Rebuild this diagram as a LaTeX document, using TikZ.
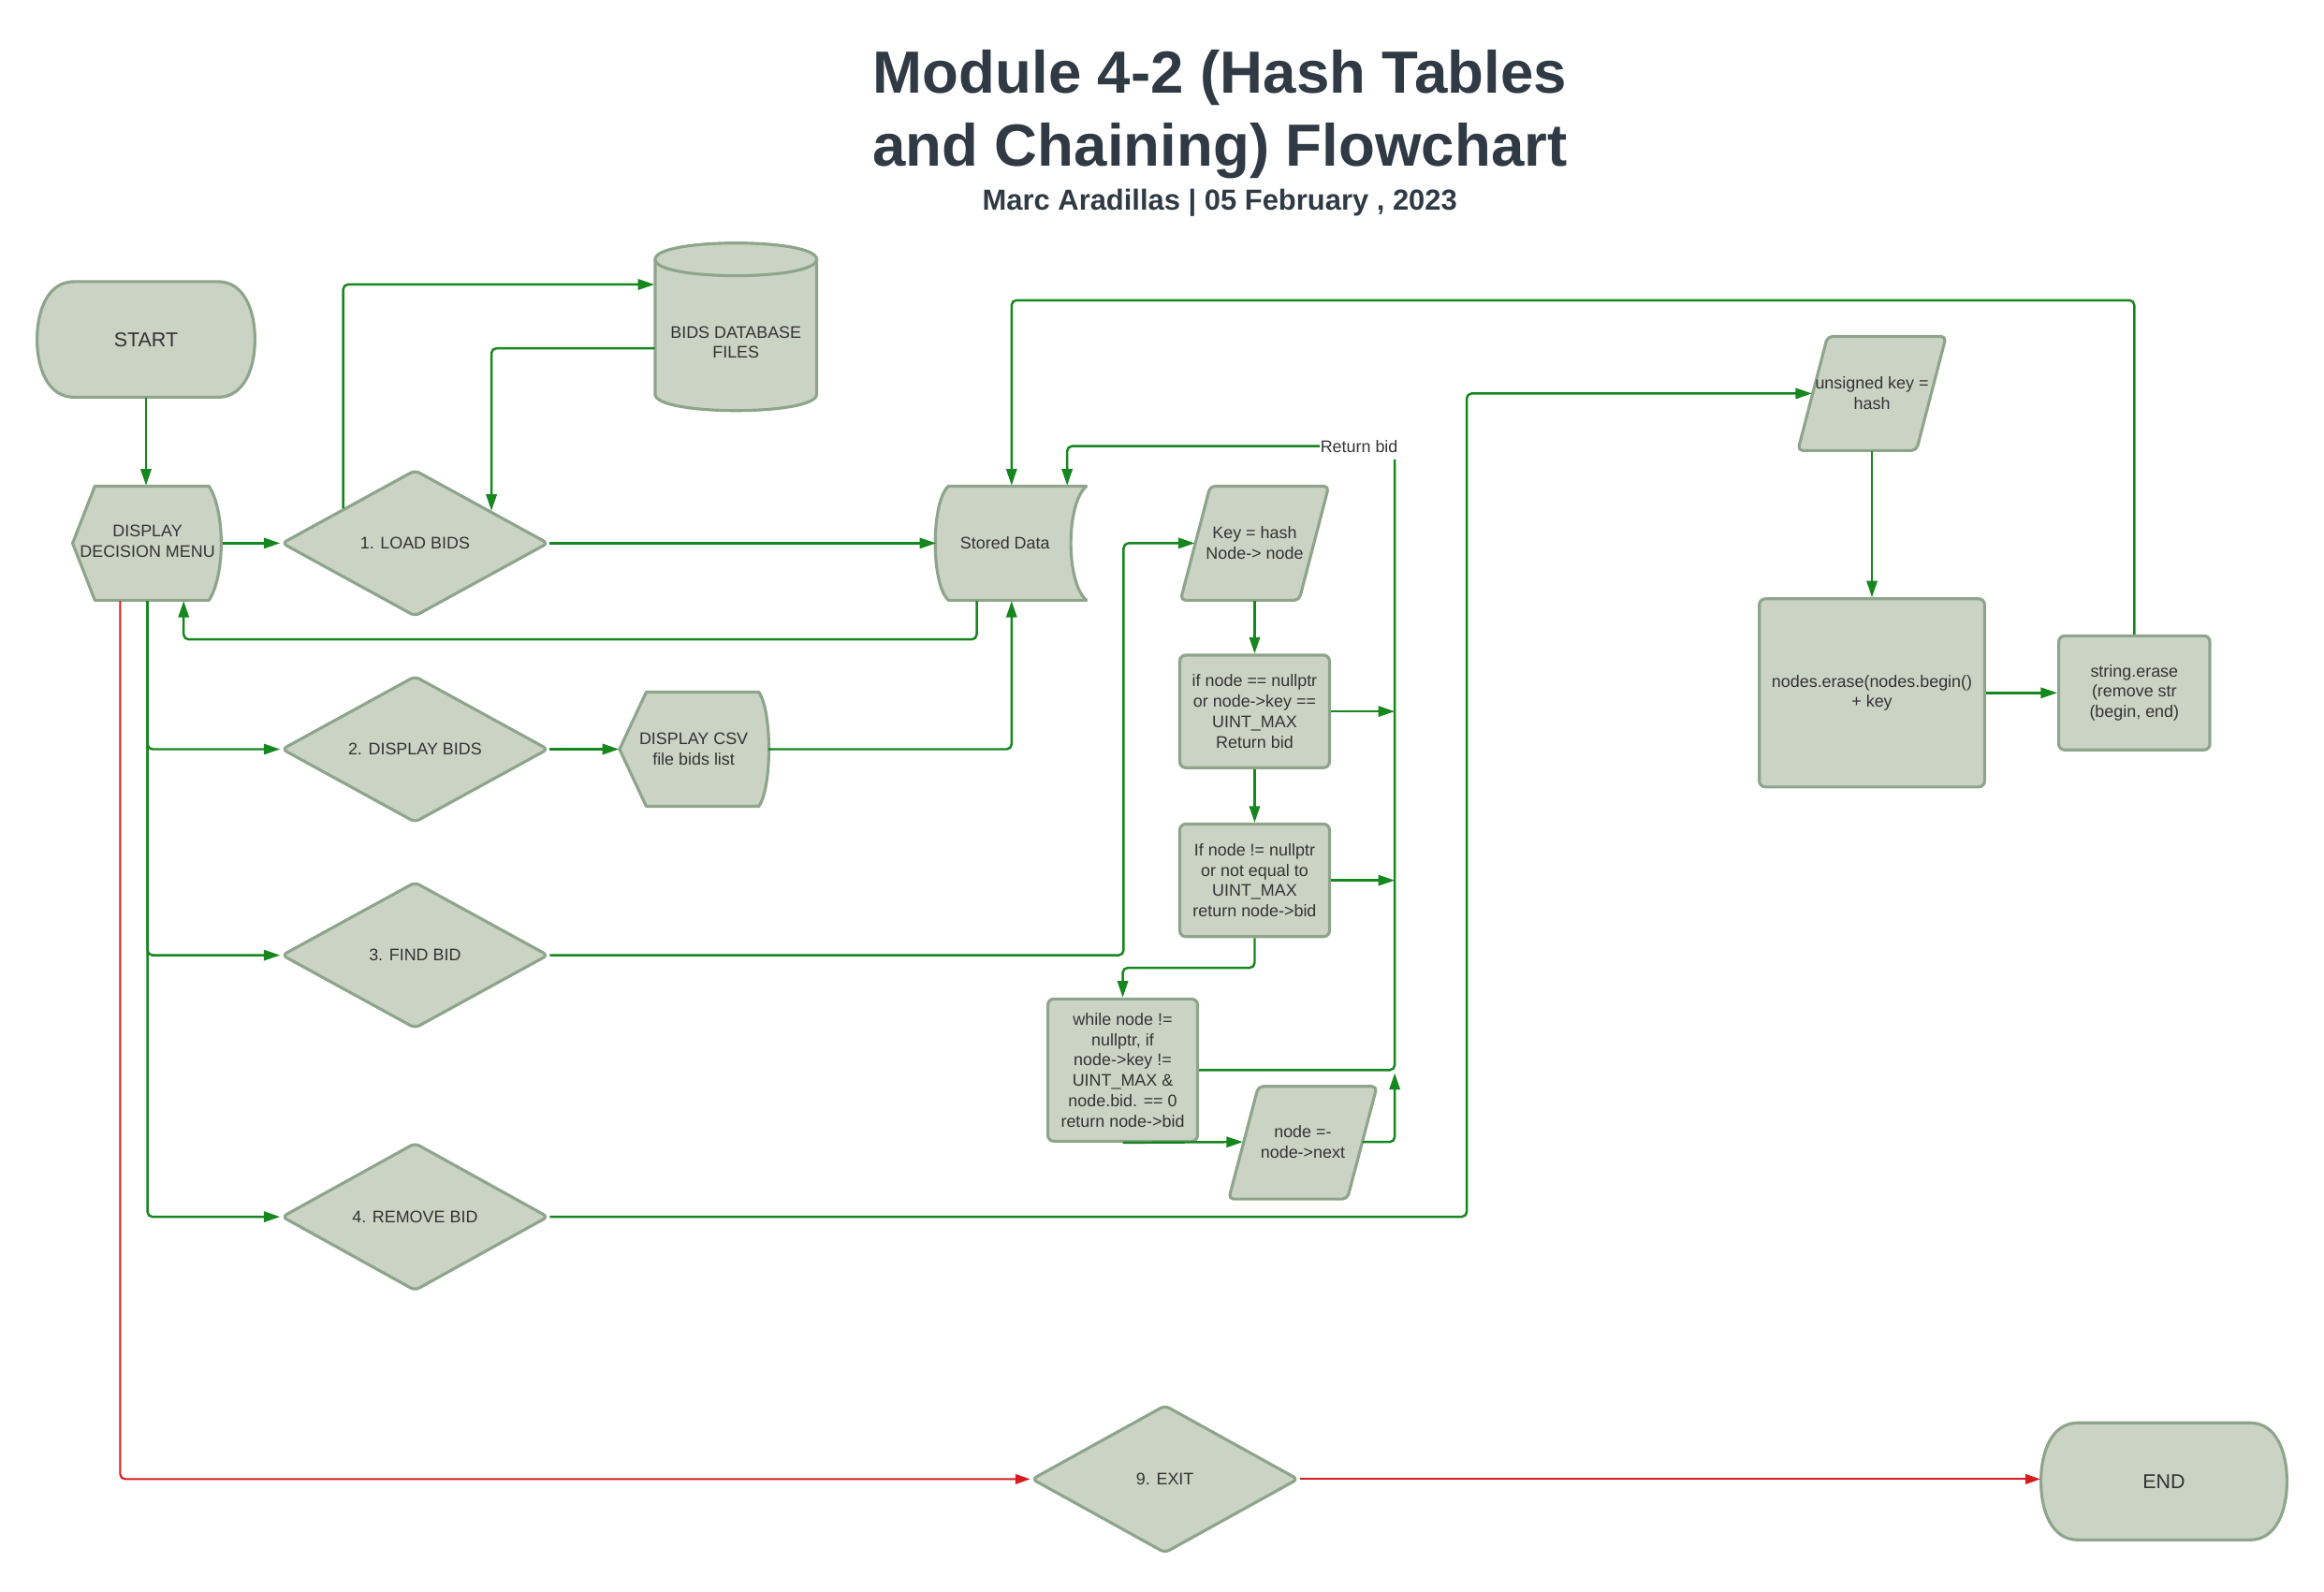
\documentclass[tikz,border=0pt]{standalone}
\usepackage{fontspec}
\setmainfont{Liberation Sans}
\usetikzlibrary{arrows.meta,calc,shapes.geometric}
\definecolor{shpfill}{RGB}{203,212,196}
\definecolor{shpdraw}{RGB}{141,165,138}
\definecolor{linec}{RGB}{22,134,30}
\definecolor{redc}{RGB}{214,28,28}
\definecolor{textc}{RGB}{51,51,51}
\definecolor{titlec}{RGB}{47,58,68}
\begin{document}
\begin{tikzpicture}[x=0.015836cm, y=-0.015836cm,
  shp/.style={fill=shpfill, draw=shpdraw, line width=0.9pt, line join=round},
  sz/.style 2 args={minimum width=#1*0.4505pt, minimum height=#2*0.4505pt},
  txt/.style={font=\fontsize{5.1}{6.2}\selectfont, text=textc, align=center, inner sep=0pt},
  bigtxt/.style={font=\fontsize{6.1}{7.2}\selectfont, text=textc, align=center, inner sep=0pt},
  dia/.style={shape=diamond, shp, txt, rounded corners=1.5pt},
  box/.style={shape=rectangle, shp, txt, rounded corners=1.8pt},
  conn/.style={draw=linec, line width=0.7pt, rounded corners=1.5pt},
  arr/.style={conn, -{Triangle[length=5pt,width=3.2pt]}},
  rarr/.style={draw=redc, line width=0.6pt, rounded corners=1.5pt, -{Triangle[length=4.5pt,width=3pt]}},
  ttl/.style={font=\fontsize{18.1}{21.7}\selectfont\bfseries, text=titlec, anchor=base, inner sep=0pt},
  subttl/.style={font=\fontsize{8.8}{10.5}\selectfont\bfseries, text=titlec, anchor=base, inner sep=0pt}]
\useasboundingbox (0,0) rectangle (1568,1074);

% ---------- title ----------
\node[ttl] (t1) at (823,63) {Module 4-2 (Hash Tables};
\node[ttl] (t2) at (823,112) {and Chaining) Flowchart};
\node[subttl] (t3) at (823,142) {Marc Aradillas | 05 February , 2023};

% ---------- drawn shapes ----------
% START terminator
\path[shp] (50,190) -- (147,190) .. controls (165,190) and (172,210) .. (172,229)
  .. controls (172,248) and (165,268) .. (147,268) -- (50,268)
  .. controls (32,268) and (25,248) .. (25,229) .. controls (25,210) and (32,190) .. (50,190) -- cycle;
% END terminator
\path[shp] (1402,960) -- (1518,960) .. controls (1536,960) and (1543,980) .. (1543,999.5)
  .. controls (1543,1019) and (1536,1039) .. (1518,1039) -- (1402,1039)
  .. controls (1384,1039) and (1377,1019) .. (1377,999.5) .. controls (1377,980) and (1384,960) .. (1402,960) -- cycle;
% DISPLAY DECISION MENU (display shape)
\path[shp] (49,366.5) -- (64,328) -- (141,328) .. controls (152,345) and (152,388) .. (141,405) -- (64,405) -- cycle;
% DISPLAY CSV (display shape)
\path[shp] (418,505.5) -- (436,467) -- (512,467) .. controls (521,480) and (521,531) .. (512,544) -- (436,544) -- cycle;
% BIDS DATABASE cylinder
\path[shp] (442,175) -- (442,266) .. controls (442,280.7) and (551,280.7) .. (551,266) -- (551,175)
  .. controls (551,160.3) and (442,160.3) .. (442,175) -- cycle;
\draw[shp, fill=none] (442,175) .. controls (442,189.7) and (551,189.7) .. (551,175);
% Stored Data
\path[shp] (640,328) -- (733,328) .. controls (719,340) and (719,393) .. (733,405) -- (640,405)
  .. controls (628,395) and (628,338) .. (640,328) -- cycle;
% parallelograms
\path[shp, rounded corners=1.5pt] (816.5,328) -- (896.5,328) -- (876.5,405) -- (796.5,405) -- cycle;
\path[shp, rounded corners=1.5pt] (849,733) -- (929,733) -- (909,809) -- (829,809) -- cycle;
\path[shp, rounded corners=1.5pt] (1233,227) -- (1313,227) -- (1293,304) -- (1213,304) -- cycle;

% ---------- nodes ----------
\node[bigtxt, sz={147}{78}] (start) at (98.5,229) {START};
\node[bigtxt, sz={166}{79}] (endn) at (1460,999.5) {END};
\node[txt, sz={101}{77}] (menu) at (99.5,366.5) {\raisebox{2.3pt}{\begin{tabular}{@{}c@{}}DISPLAY\\DECISION MENU\end{tabular}}};
\node[txt, sz={100}{77}] (csv) at (468,505.5) {DISPLAY CSV\\file bids list};
\node[txt, minimum width=109*0.4505pt] (db) at (496.5,231) {BIDS DATABASE\\FILES};
\node[txt, sz={101}{77}] (sd) at (682.5,366.5) {Stored Data\hspace*{4pt}};
\node[txt, sz={100}{77}] (key) at (846.5,366.5) {Key = hash\\Node-> node};
\node[txt, sz={100}{76}] (nn) at (879,770.5) {node =-\\node->next};
\node[txt, sz={100}{77}] (uk) at (1263,265.5) {unsigned key =\\hash};

\node[dia, sz={180}{99}] (load) at (280,366.5) {1. LOAD BIDS};
\node[dia, sz={180}{99}] (disp) at (280,505.5) {2. DISPLAY BIDS};
\node[dia, sz={180}{99}] (find) at (280,644.5) {3. FIND BID};
\node[dia, sz={180}{100}] (rem) at (280,821) {4. REMOVE BID};
\node[dia, sz={180}{100}] (exit) at (786,998) {9. EXIT};

\node[box, sz={101}{76}] (b1) at (846.5,480) {if node == nullptr\\or node->key ==\\UINT\_MAX\\Return bid};
\node[box, sz={101}{76}] (b2) at (846.5,594) {If node != nullptr\\or not equal to\\UINT\_MAX\\return node->bid};
\node[box, sz={101}{96}] (wh) at (757.5,722) {while node !=\\nullptr, if\\node->key !=\\UINT\_MAX \&\\node.bid. == 0\\return node->bid};
\node[box, sz={152}{127}] (ne) at (1263,467.5) {nodes.erase(nodes.begin()\\+ key};
\node[box, sz={102}{77}] (se) at (1440,467.5) {string.erase\\(remove str\\(begin, end)};

\node[txt] (ret) at (917,301) {Return bid};
\coordinate (rbtop) at (941,310);

% ---------- connectors ----------
\draw[arr] (start.south) -- (start.south |- menu.north);
\draw[arr] (menu.east) -- (load.west);
\draw[arr] ($(load.west)!0.467!(load.north)$) |- ([yshift=17.6pt]db.west);
\draw[arr] ([yshift=-1.8pt]db.west) -| ($(load.north)!0.567!(load.east)$);
\draw[arr] (load.east) -- (sd.west);
\draw[arr] ([xshift=-10.6pt]sd.south) -- ++(0,26) -| ([xshift=11pt]menu.south);
\draw[arr] (menu.south) |- (disp.west);
\draw[arr] (menu.south) |- (find.west);
\draw[arr] (menu.south) |- (rem.west);
\draw[arr] (disp.east) -- (csv.west);
\draw[arr] (csv.east) -| (sd.south);
\draw[arr] (find.east) -| ($(key.west)+(-38,0)$) -- ($(key.west)+(10,0)$);
\draw[arr] (key.south) -- (b1.north);
\draw[arr] (b1.south) -- (b2.north);
\draw[arr] (b1.east) -- (b1.east -| rbtop);
\draw[arr] (b2.east) -- (b2.east -| rbtop);
\draw[arr] (b2.south) -- ++(0,20) -| (wh.north);
\draw[conn] (wh.east) -| (rbtop);
\draw[arr] (ret.west) -| ([xshift=16.9pt]sd.north);
\draw[arr] (wh.south) -- ($(nn.west)+(10,0)$);
\draw[arr] ($(nn.east)+(-10,0)$) -| ($(wh.east -| rbtop)+(0,2)$);
\draw[arr] (rem.east) -| ($(uk.west)+(-223,0)$) -- ($(uk.west)+(10,0)$);
\draw[arr] (uk.south) -- (ne.north);
\draw[arr] (ne.east) -- (se.west);
\draw[arr] (se.north) |- ($(sd.north)+(0,-125)$) -- (sd.north);
\draw[rarr] ([xshift=-8.3pt]menu.south) |- (exit.west);
\draw[rarr] (exit.east) -- (exit.east -| endn.west);
\end{tikzpicture}
\end{document}
